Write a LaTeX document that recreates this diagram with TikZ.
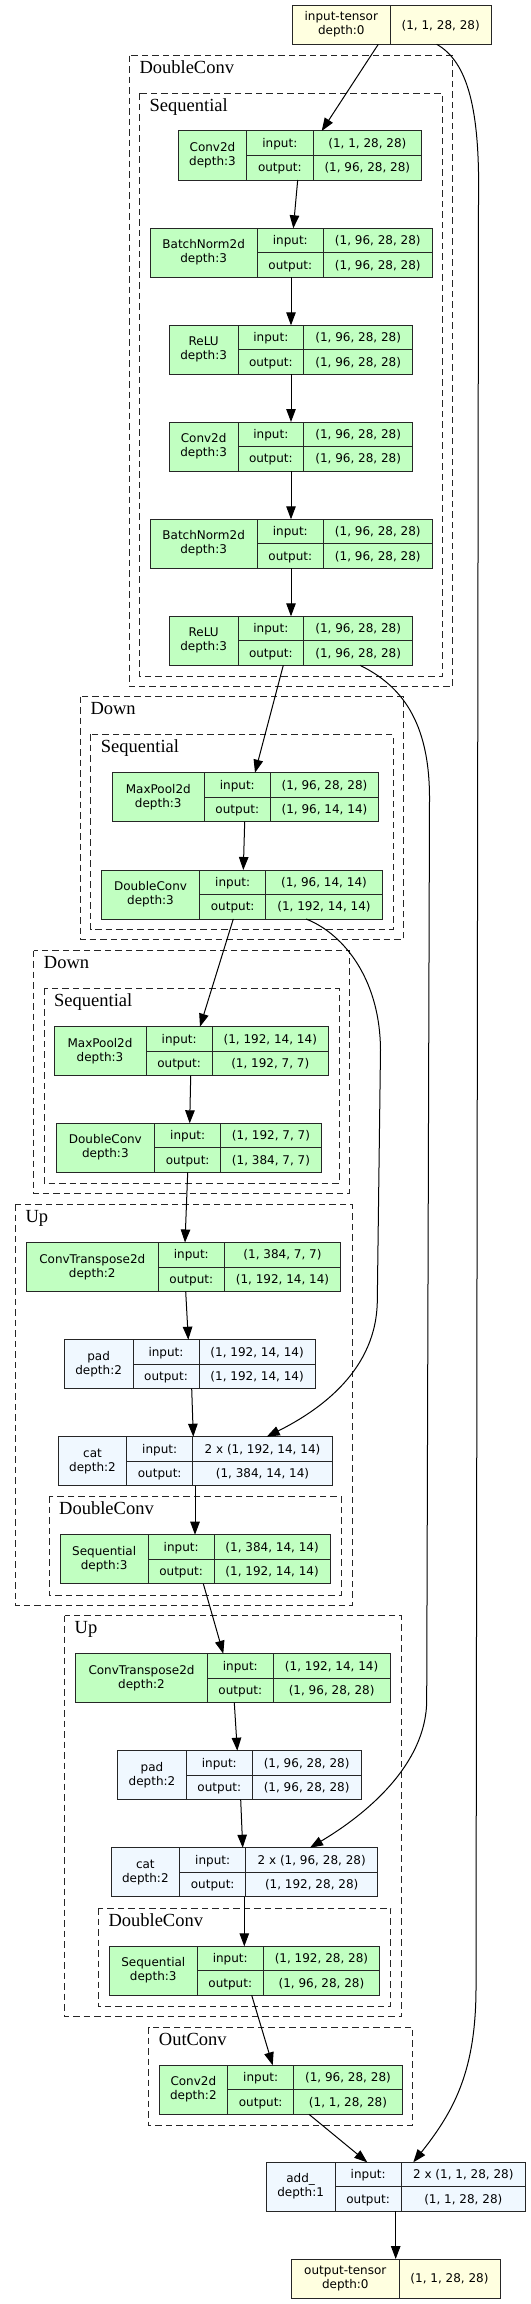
\documentclass[tikz,border=0pt]{standalone}
\usepackage{fontspec}
\setmainfont{Liberation Serif}
\newfontfamily\tvsans{DejaVu Sans}
\usetikzlibrary{arrows.meta}
\definecolor{tvgreen}{HTML}{C1FFC1}
\definecolor{tvblue}{HTML}{F0F8FF}
\definecolor{tvyellow}{HTML}{FFFFE0}
\definecolor{tvline}{HTML}{262626}
\tikzset{
 tvnode/.style={draw=tvline, line width=1pt, rectangle, inner sep=0pt, outer sep=0pt, anchor=north west},
 tvdiv/.style={draw=tvline, line width=1pt},
 tvtext/.style={font=\tvsans\fontsize{12}{14}\selectfont, inner sep=0pt, anchor=base},
 cluster/.style={draw=tvline, line width=1pt, dash pattern=on 6.5pt off 4pt},
 clabel/.style={font=\fontsize{18.5}{20}\selectfont, inner sep=0pt, anchor=base west},
 edge/.style={draw=black, line width=1pt, -{Triangle[length=13pt,width=9.5pt]}},
}
% #1 name #2 x1 #3 ytop #4 x2 #5 d1 #6 d2 #7 fill #8 label line 1
\newcommand\tvbox[8]{%
  \node[tvnode, fill=#7, minimum width={#4-#2}, minimum height=49] (#1) at (#2,#3) {};
  \draw[tvdiv] (#5,#3) -- ++(0,49) (#6,#3) -- ++(0,49) (#5,#3+24.5) -- (#4,#3+24.5);
  \node[tvtext] (#1-l1) at ({(#2+#5)/2},#3+20.5) {#8};
  \node[tvtext] (#1-i) at ({(#5+#6)/2},#3+16.45) {input:};
  \node[tvtext] (#1-o) at ({(#5+#6)/2},#3+40.95) {output:};
  \def\tvX{#2}\def\tvY{#3}\def\tvR{#4}\def\tvD{#5}\def\tvE{#6}\def\tvN{#1}}
% #1 label line 2, #2 input value, #3 output value
\newcommand\tvval[3]{%
  \node[tvtext] (\tvN-l2) at ({(\tvX+\tvD)/2},\tvY+34.5) {#1};
  \node[tvtext] (\tvN-iv) at ({(\tvE+\tvR)/2},\tvY+16.45) {#2};
  \node[tvtext] (\tvN-ov) at ({(\tvE+\tvR)/2},\tvY+40.95) {#3};}
\begin{document}
\begin{tikzpicture}[x=1pt,y=-1pt]
\fill[white] (0,0) rectangle (530,2304);
\useasboundingbox (0,0) rectangle (530,2304);

% clusters
\draw[cluster] (129.3,55.7) rectangle (452.7,686.7);
\node[clabel] (k1) at (139.3,73.7) {DoubleConv};
\draw[cluster] (139.5,93.3) rectangle (442.3,676);
\node[clabel] (k2) at (149.5,111.3) {Sequential};
\draw[cluster] (80.3,696.7) rectangle (403.3,939.5);
\node[clabel] (k3) at (90.3,714.7) {Down};
\draw[cluster] (90.7,734.3) rectangle (393,929.3);
\node[clabel] (k4) at (100.7,752.3) {Sequential};
\draw[cluster] (33.7,950.5) rectangle (349.3,1193.3);
\node[clabel] (k5) at (43.7,968.5) {Down};
\draw[cluster] (44,988.3) rectangle (339,1183.3);
\node[clabel] (k6) at (54,1006.3) {Sequential};
\draw[cluster] (15.3,1204.3) rectangle (352,1605.3);
\node[clabel] (k7) at (25.3,1222.3) {Up};
\draw[cluster] (49,1496.3) rectangle (341,1595);
\node[clabel] (k8) at (59,1514.3) {DoubleConv};
\draw[cluster] (64.5,1615.7) rectangle (401,2016.7);
\node[clabel] (k9) at (74.5,1633.7) {Up};
\draw[cluster] (98.3,1908) rectangle (390.7,2006.5);
\node[clabel] (k10) at (108.3,1926) {DoubleConv};
\draw[cluster] (148.7,2027) rectangle (412.7,2125.3);
\node[clabel] (k11) at (158.7,2045) {OutConv};

% tensors
\node[tvnode, fill=tvyellow, minimum width=198.7, minimum height=38.6] (inT) at (292.3,5.7) {};
\draw[tvdiv] (390.3,5.7) -- ++(0,38.6);
\node[tvtext] (inT-l1) at (341.3,21) {input-tensor};
\node[tvtext] (inT-l2) at (341.3,35) {depth:0};
\node[tvtext] (inT-v) at (440.7,29.2) {(1, 1, 28, 28)};

\node[tvnode, fill=tvyellow, minimum width=208.3, minimum height=39] (outT) at (291.7,2259) {};
\draw[tvdiv] (399,2259) -- ++(0,39);
\node[tvtext] (outT-l1) at (345.3,2274.5) {output-tensor};
\node[tvtext] (outT-l2) at (345.3,2288.5) {depth:0};
\node[tvtext] (outT-v) at (449.5,2282.7) {(1, 1, 28, 28)};

% layers
\tvbox{c1}{178.3}{131}{421.7}{246.7}{313}{tvgreen}{Conv2d}\tvval{depth:3}{(1, 1, 28, 28)}{(1, 96, 28, 28)}
\tvbox{b1}{150}{228.3}{432.3}{257.3}{323.3}{tvgreen}{BatchNorm2d}\tvval{depth:3}{(1, 96, 28, 28)}{(1, 96, 28, 28)}
\tvbox{r1}{169.3}{325.3}{412.7}{238}{303.7}{tvgreen}{ReLU}\tvval{depth:3}{(1, 96, 28, 28)}{(1, 96, 28, 28)}
\tvbox{c2}{169.3}{422}{412.7}{238}{303.7}{tvgreen}{Conv2d}\tvval{depth:3}{(1, 96, 28, 28)}{(1, 96, 28, 28)}
\tvbox{b2}{150}{519.3}{432.3}{257.3}{323.3}{tvgreen}{BatchNorm2d}\tvval{depth:3}{(1, 96, 28, 28)}{(1, 96, 28, 28)}
\tvbox{r2}{169.3}{616.3}{412.7}{238}{303.7}{tvgreen}{ReLU}\tvval{depth:3}{(1, 96, 28, 28)}{(1, 96, 28, 28)}
\tvbox{m1}{112.3}{772.7}{378.7}{204.3}{270.3}{tvgreen}{MaxPool2d}\tvval{depth:3}{(1, 96, 28, 28)}{(1, 96, 14, 14)}
\tvbox{dc1}{101.3}{870}{382.3}{199.7}{265.7}{tvgreen}{DoubleConv}\tvval{depth:3}{(1, 96, 14, 14)}{(1, 192, 14, 14)}
\tvbox{m2}{54}{1026.7}{328.3}{146}{212.3}{tvgreen}{MaxPool2d}\tvval{depth:3}{(1, 192, 14, 14)}{(1, 192, 7, 7)}
\tvbox{dc2}{56}{1123.3}{321.3}{154.7}{220.7}{tvgreen}{DoubleConv}\tvval{depth:3}{(1, 192, 7, 7)}{(1, 384, 7, 7)}
\tvbox{ct1}{26.3}{1242.5}{340.7}{158.3}{224.3}{tvgreen}{ConvTranspose2d}\tvval{depth:2}{(1, 384, 7, 7)}{(1, 192, 14, 14)}
\tvbox{p1}{64.3}{1339.7}{315.3}{133}{199}{tvblue}{pad}\tvval{depth:2}{(1, 192, 14, 14)}{(1, 192, 14, 14)}
\tvbox{cat1}{58.3}{1436.7}{332.3}{126.7}{192.7}{tvblue}{cat}\tvval{depth:2}{2 x (1, 192, 14, 14)}{(1, 384, 14, 14)}
\tvbox{s1}{60}{1534.7}{330.3}{148.3}{214}{tvgreen}{Sequential}\tvval{depth:3}{(1, 384, 14, 14)}{(1, 192, 14, 14)}
\tvbox{ct2}{75.7}{1653.7}{390}{207.3}{273.3}{tvgreen}{ConvTranspose2d}\tvval{depth:2}{(1, 192, 14, 14)}{(1, 96, 28, 28)}
\tvbox{p2}{117.7}{1750.7}{361}{186.3}{252.3}{tvblue}{pad}\tvval{depth:2}{(1, 96, 28, 28)}{(1, 96, 28, 28)}
\tvbox{cat2}{111}{1847.7}{377.7}{179.7}{245.7}{tvblue}{cat}\tvval{depth:2}{2 x (1, 96, 28, 28)}{(1, 192, 28, 28)}
\tvbox{s2}{109.3}{1946.3}{379.7}{197.3}{263.2}{tvgreen}{Sequential}\tvval{depth:3}{(1, 192, 28, 28)}{(1, 96, 28, 28)}
\tvbox{oc}{159}{2065.3}{402.3}{227.7}{293.7}{tvgreen}{Conv2d}\tvval{depth:2}{(1, 96, 28, 28)}{(1, 1, 28, 28)}
\tvbox{add}{266.3}{2162.3}{525.3}{335}{401.3}{tvblue}{add\_}\tvval{depth:1}{2 x (1, 1, 28, 28)}{(1, 1, 28, 28)}

% edges
\draw[edge] (inT.south -| 378.3,0) -- (c1.north -| 321.7,0);
\draw[edge] (inT.south -| 436.7,0) .. controls (468,62) and (480,110) .. (478.5,200)
  -- (476,1990) .. controls (475.5,2070) and (455,2110) .. (add.north -| 413.3,0);
\draw[edge] (c1.south -| 297.7,0) -- (b1.north -| 293.3,0);
\draw[edge] (b1.south -| 291,0) -- (r1.north -| 291,0);
\draw[edge] (r1.south -| 291,0) -- (c2.north -| 291,0);
\draw[edge] (c2.south -| 291,0) -- (b2.north -| 291,0);
\draw[edge] (b2.south -| 291,0) -- (r2.north -| 291,0);
\draw[edge] (r2.south -| 283.3,0) -- (m1.north -| 255,0);
\draw[edge] (r2.south -| 360,0) .. controls (400,685) and (430,720) .. (429.5,800)
  -- (426.7,1700) .. controls (426.7,1765) and (365,1815) .. (cat2.north -| 310,0);
\draw[edge] (m1.south -| 244.7,0) -- (dc1.north -| 243.3,0);
\draw[edge] (dc1.south -| 233.3,0) -- (m2.north -| 200,0);
\draw[edge] (dc1.south -| 306,0) .. controls (340,932) and (380,975) .. (380.5,1050)
  -- (377.3,1300) .. controls (377,1370) and (320,1410) .. (cat1.north -| 266.7,0);
\draw[edge] (m2.south -| 190.7,0) -- (dc2.north -| 189.7,0);
\draw[edge] (dc2.south -| 187.7,0) -- (ct1.north -| 185,0);
\draw[edge] (ct1.south -| 185.7,0) -- (p1.north -| 188.3,0);
\draw[edge] (p1.south -| 191.7,0) -- (cat1.north -| 193.3,0);
\draw[edge] (cat1.south -| 195,0) -- (s1.north -| 195,0);
\draw[edge] (s1.south -| 203.3,0) -- (ct2.north -| 223.3,0);
\draw[edge] (ct2.south -| 234.3,0) -- (p2.north -| 237.3,0);
\draw[edge] (p2.south -| 240.7,0) -- (cat2.north -| 242.7,0);
\draw[edge] (cat2.south -| 244.3,0) -- (s2.north -| 244.3,0);
\draw[edge] (s2.south -| 251.7,0) -- (oc.north -| 272.7,0);
\draw[edge] (oc.south -| 309,0) -- (add.north -| 367.3,0);
\draw[edge] (add.south -| 395.7,0) -- (outT.north -| 395.7,0);
\end{tikzpicture}
\end{document}
